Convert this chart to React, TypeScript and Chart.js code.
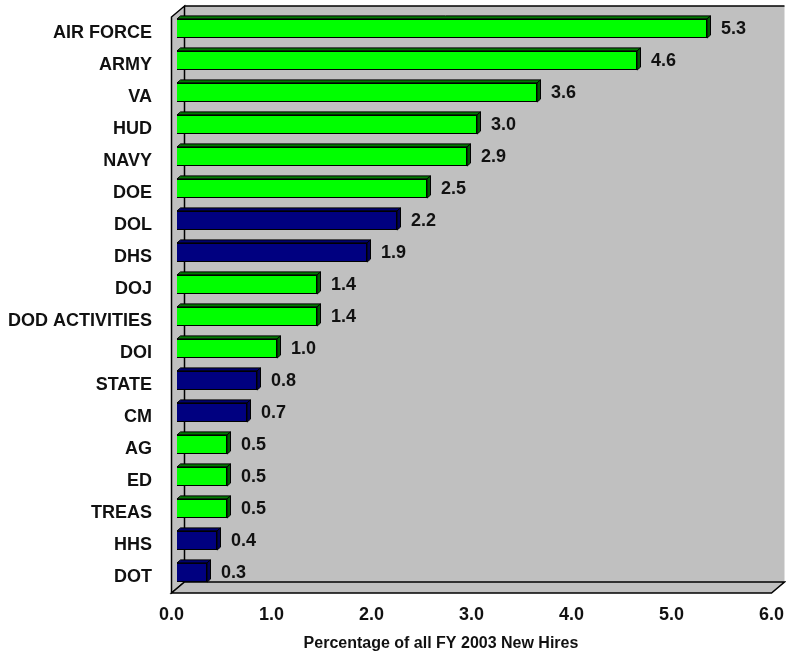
import React, { useEffect, useRef } from 'react';
import { Chart, registerables } from 'chart.js';

Chart.register(...registerables);

const categories = ['AIR FORCE', 'ARMY', 'VA', 'HUD', 'NAVY', 'DOE', 'DOL', 'DHS', 'DOJ', 'DOD ACTIVITIES', 'DOI', 'STATE', 'CM', 'AG', 'ED', 'TREAS', 'HHS', 'DOT'];
const values = [5.3, 4.6, 3.6, 3.0, 2.9, 2.5, 2.2, 1.9, 1.4, 1.4, 1.0, 0.8, 0.7, 0.5, 0.5, 0.5, 0.4, 0.3];
const colorGroup = ['green', 'green', 'green', 'green', 'green', 'green', 'navy', 'navy', 'green', 'green', 'green', 'navy', 'navy', 'green', 'green', 'green', 'navy', 'navy'];
const xMin = 0;
const xMax = 6;
const xStep = 1;
const axisTitle = 'Percentage of all FY 2003 New Hires';

const FONT = '"Liberation Sans", Arial, Helvetica, sans-serif';
const palette: Record<string, { front: string; top: string; side: string }> = {
  green: { front: '#00ff00', top: '#007a00', side: '#005a00' },
  navy: { front: '#000080', top: '#000070', side: '#000058' },
};

// 3D geometry
const WALL_DX = 13;
const WALL_DY = 11;
const BAR_SHIFT_X = 5.5;
const BAR_SHIFT_Y = 4.5;
const BAR_DX = 3.5;
const BAR_DY = 3;

const box3d = {
  id: 'box3d',
  beforeDatasetsDraw(chart: any) {
    const { ctx, chartArea: a } = chart;
    ctx.save();
    ctx.fillStyle = '#c0c0c0';
    ctx.strokeStyle = '#000';
    ctx.lineWidth = 1.5;
    // back wall
    ctx.beginPath();
    ctx.rect(a.left + WALL_DX, a.top - WALL_DY, a.right - a.left, a.bottom - a.top);
    ctx.fill();
    // left wall
    ctx.beginPath();
    ctx.moveTo(a.left, a.top);
    ctx.lineTo(a.left + WALL_DX, a.top - WALL_DY);
    ctx.lineTo(a.left + WALL_DX, a.bottom - WALL_DY);
    ctx.lineTo(a.left, a.bottom);
    ctx.closePath();
    ctx.fill();
    ctx.stroke();
    // floor
    ctx.beginPath();
    ctx.moveTo(a.left, a.bottom);
    ctx.lineTo(a.left + WALL_DX, a.bottom - WALL_DY);
    ctx.lineTo(a.right + WALL_DX, a.bottom - WALL_DY);
    ctx.lineTo(a.right, a.bottom);
    ctx.closePath();
    ctx.fill();
    ctx.stroke();
    // top edge of back wall
    ctx.beginPath();
    ctx.moveTo(a.left + WALL_DX, a.top - WALL_DY);
    ctx.lineTo(a.right + WALL_DX, a.top - WALL_DY);
    ctx.stroke();
    ctx.restore();
    ctx.save();
    ctx.translate(BAR_SHIFT_X, -BAR_SHIFT_Y);
  },
  afterDatasetsDraw(chart: any) {
    const { ctx } = chart;
    const meta = chart.getDatasetMeta(0);
    meta.data.forEach((el: any, i: number) => {
      const p = palette[colorGroup[i]];
      const h = el.height;
      const y0 = el.y - h / 2;
      const y1 = el.y + h / 2;
      const x0 = el.base;
      const x1 = el.x;
      ctx.lineWidth = 1;
      ctx.strokeStyle = '#000';
      // top face
      ctx.beginPath();
      ctx.moveTo(x0, y0);
      ctx.lineTo(x1, y0);
      ctx.lineTo(x1 + BAR_DX, y0 - BAR_DY);
      ctx.lineTo(x0 + BAR_DX, y0 - BAR_DY);
      ctx.closePath();
      ctx.fillStyle = p.top;
      ctx.fill();
      ctx.stroke();
      // side face
      ctx.beginPath();
      ctx.moveTo(x1, y0);
      ctx.lineTo(x1 + BAR_DX, y0 - BAR_DY);
      ctx.lineTo(x1 + BAR_DX, y1 - BAR_DY);
      ctx.lineTo(x1, y1);
      ctx.closePath();
      ctx.fillStyle = p.side;
      ctx.fill();
      ctx.stroke();
    });
    ctx.restore();
    // value labels
    ctx.save();
    ctx.font = `bold 18px ${FONT}`;
    ctx.fillStyle = '#111';
    ctx.textAlign = 'left';
    ctx.textBaseline = 'middle';
    meta.data.forEach((el: any, i: number) => {
      ctx.fillText(values[i].toFixed(1), el.x + BAR_SHIFT_X + 14, el.y - BAR_SHIFT_Y + 1);
    });
    ctx.restore();
  },
  afterDraw(chart: any) {
    const { ctx } = chart;
    ctx.save();
    ctx.font = `bold 16px ${FONT}`;
    ctx.fillStyle = '#111';
    ctx.textAlign = 'center';
    ctx.textBaseline = 'middle';
    ctx.fillText(axisTitle, 441, 644);
    ctx.restore();
  },
};

const zeroPad = (s: any) => {
  s.paddingTop = 0;
  s.paddingBottom = 0;
  s.paddingLeft = 0;
  s.paddingRight = 0;
};

export default function App() {
  const ref = useRef<HTMLCanvasElement>(null);
  useEffect(() => {
    if (!ref.current) return;
    const chart = new Chart(ref.current, {
      type: 'bar',
      data: {
        labels: categories,
        datasets: [
          {
            data: values,
            backgroundColor: colorGroup.map((g) => palette[g].front),
            borderColor: '#000',
            borderWidth: 1,
            barPercentage: 0.6,
            categoryPercentage: 1,
            clip: false as any,
          },
        ],
      },
      options: {
        indexAxis: 'y',
        animation: false,
        responsive: false,
        layout: { padding: { left: 0, right: 14.5, top: 17, bottom: 0 } },
        plugins: { legend: { display: false }, tooltip: { enabled: false } },
        scales: {
          x: {
            min: xMin,
            max: xMax,
            grid: { display: false, drawTicks: false },
            border: { display: false },
            ticks: {
              stepSize: xStep,
              padding: 11,
              color: '#111',
              font: { family: FONT, size: 18, weight: 'bold' },
              callback: (v: any) => Number(v).toFixed(1),
              maxRotation: 0,
            },
            afterFit: (s: any) => {
              s.height = 63;
              zeroPad(s);
            },
          },
          y: {
            grid: { display: false, drawTicks: false },
            border: { display: false },
            ticks: {
              padding: 19.5,
              color: '#111',
              font: { family: FONT, size: 18, weight: 'bold' },
              autoSkip: false,
            },
            afterFit: (s: any) => {
              s.width = 171.5;
              zeroPad(s);
            },
          },
        },
      },
      plugins: [box3d],
    });
    return () => chart.destroy();
  }, []);
  return (
    <div style={{ position: 'absolute', left: 0, top: 0, width: 786, height: 656, background: '#fff' }}>
      <canvas ref={ref} width={786} height={656} />
    </div>
  );
}
